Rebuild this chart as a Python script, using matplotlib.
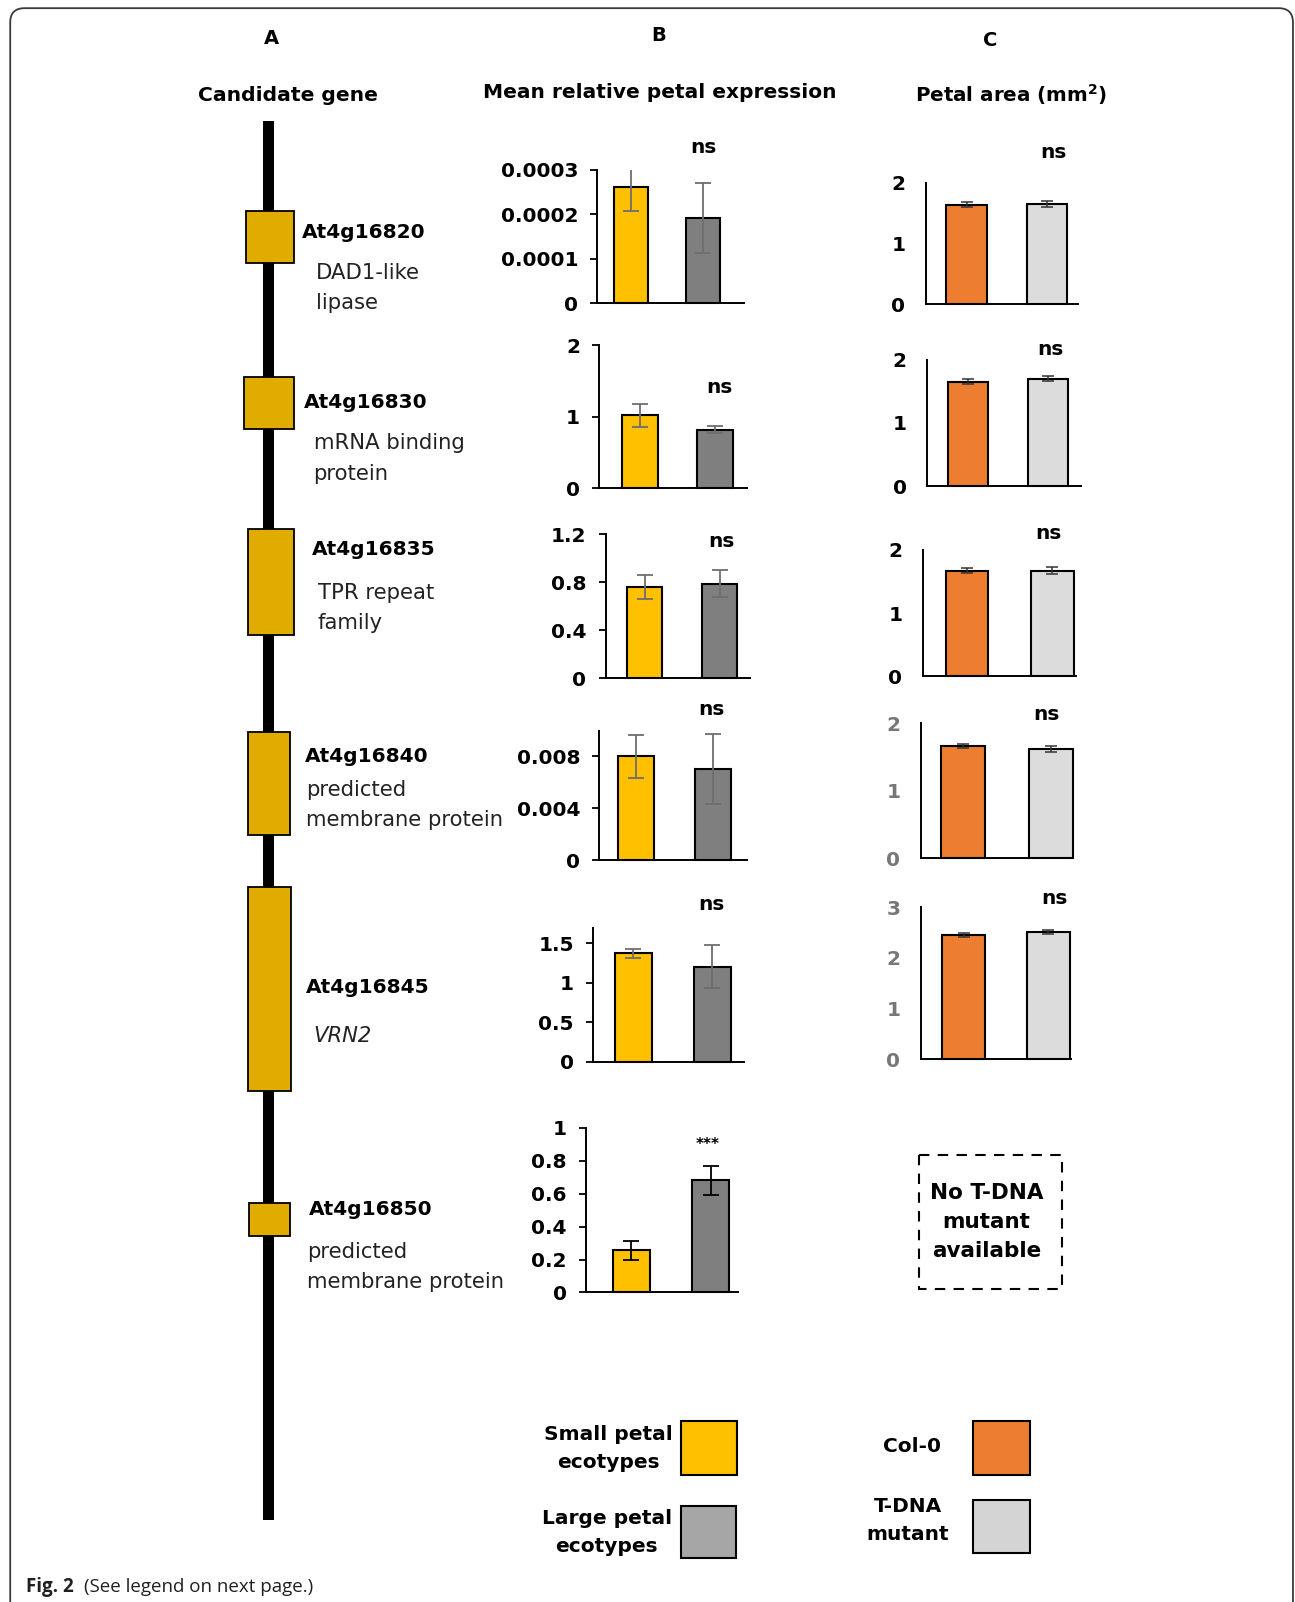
import matplotlib
matplotlib.use('Agg')

import matplotlib.pyplot as plt
from matplotlib.patches import Rectangle, FancyBboxPatch

# Datos
genes = ['At4g16820', 'At4g16830', 'At4g16835', 'At4g16840', 'At4g16845', 'At4g16850']
descripciones = [['DAD1-like', 'lipase'], ['mRNA binding', 'protein'], ['TPR repeat', 'family'],
                 ['predicted', 'membrane protein'], ['VRN2'], ['predicted', 'membrane protein']]

expr_small = [0.000262, 1.02, 0.762, 0.0080, 1.374, 0.256]
expr_small_err = [0.000055, 0.16, 0.10, 0.00166, 0.06, 0.057]
expr_large = [0.000192, 0.823, 0.79, 0.0070, 1.204, 0.681]
expr_large_err = [0.000079, 0.05, 0.11, 0.0027, 0.27, 0.09]
expr_sig = ['ns', 'ns', 'ns', 'ns', 'ns', '***']
expr_ymax = [0.0003, 2, 1.2, 0.01, 1.7, 1]
expr_ticks = [[0, 0.0001, 0.0002, 0.0003], [0, 1, 2], [0, 0.4, 0.8, 1.2],
              [0, 0.004, 0.008], [0, 0.5, 1, 1.5], [0, 0.2, 0.4, 0.6, 0.8, 1]]
expr_ticklabels = [['0', '0.0001', '0.0002', '0.0003'], ['0', '1', '2'], ['0', '0.4', '0.8', '1.2'],
                   ['0', '0.004', '0.008'], ['0', '0.5', '1', '1.5'], ['0', '0.2', '0.4', '0.6', '0.8', '1']]

area_col = [1.64, 1.65, 1.67, 1.667, 2.46]
area_col_err = [0.04, 0.04, 0.04, 0.03, 0.04]
area_tdna = [1.655, 1.70, 1.67, 1.62, 2.52]
area_tdna_err = [0.05, 0.04, 0.05, 0.05, 0.04]
area_sig = ['ns', 'ns', 'ns', 'ns', 'ns']
area_ymax = [2, 2, 2, 2, 3]
area_ticks = [[0, 1, 2], [0, 1, 2], [0, 1, 2], [0, 1, 2], [0, 1, 2, 3]]

# Colores
YELLOW = '#FFC000'
DARKGRAY = '#7F7F7F'
ORANGE = '#ED7D31'
LIGHTGRAY = '#DCDCDC'
GENE_GOLD = '#E0AC00'
LEG_GRAY = '#A6A6A6'

# Layout (coordenadas en pixeles de la figura reducida 1268x1568)
W, H = 1268, 1568
# left, right, bottom, top, xlo, xhi
pos_b = [(585, 728, 297, 166, -0.47, 1.56),
         (587, 731, 478, 338, -0.54, 1.42),
         (593, 734, 664, 523, -0.52, 1.40),
         (587, 731, 842, 715, -0.48, 1.44),
         (581, 728, 1039, 908, -0.51, 1.40),
         (574, 723, 1265, 1104, -0.57, 1.35)]
pos_c = [(907, 1056, 298, 179, -0.50, 1.39),
         (908, 1058, 476, 352, -0.51, 1.41),
         (904, 1054, 662, 538, -0.51, 1.28),
         (902, 1050, 840, 708, -0.48, 1.24),
         (902, 1049, 1037, 888, -0.50, 1.27)]
sig_b_xy = [(689, 144), (704, 379), (706, 530), (697, 694), (697, 885), (693, 1120)]
sig_c_xy = [(1031, 149), (1029, 342), (1027, 522), (1025, 699), (1032, 879)]
# cajas de genes: x0, x1, y0, y1 ; etiqueta: x, y
gene_boxes = [(241, 288, 207, 257), (239, 288, 369, 420), (243, 288, 518, 622),
              (243, 284, 716, 817), (243, 285, 868, 1068), (244, 284, 1177, 1210)]
gene_label_xy = [(296, 228), (298, 394), (305, 538), (299, 740), (300, 967), (302, 1184)]
desc_xy = [(309, 267), (307, 434), (311, 580), (300, 773), (307, 1014), (301, 1225)]

plt.rcParams['font.family'] = 'DejaVu Sans'

fig = plt.figure(figsize=(12.95, 16.02), dpi=100)

bg = fig.add_axes([0, 0, 1, 1])
bg.set_xlim(0, W)
bg.set_ylim(H, 0)
bg.axis('off')


def rect(l, r, b, t):
    return [l / W, 1 - b / H, (r - l) / W, (b - t) / H]


def style_axes(ax, ymax, xlo, xhi):
    ax.set_xlim(xlo, xhi)
    ax.set_ylim(0, ymax)
    ax.patch.set_alpha(0)
    for s in ['top', 'right']:
        ax.spines[s].set_visible(False)
    for s in ['left', 'bottom']:
        ax.spines[s].set_linewidth(1.4)
    ax.set_xticks([])


# Panel B: expresion relativa
for i in range(6):
    l, r, b, t, xlo, xhi = pos_b[i]
    ax = fig.add_axes(rect(l, r, b, t))
    ecol = 'black' if i == 5 else '#6E6E6E'
    ax.bar([0, 1], [expr_small[i], expr_large[i]], width=0.47,
           color=[YELLOW, DARKGRAY], edgecolor='black', linewidth=1.5, clip_on=False,
           yerr=[expr_small_err[i], expr_large_err[i]],
           error_kw=dict(ecolor=ecol, elinewidth=1.3, capsize=6, capthick=1.3))
    style_axes(ax, expr_ymax[i], xlo, xhi)
    ax.set_yticks(expr_ticks[i], expr_ticklabels[i], fontsize=14.5, fontweight='bold')
    ax.tick_params(axis='y', direction='out', length=5, width=1.3, pad=9)
    sx, sy = sig_b_xy[i]
    bg.text(sx, sy, expr_sig[i], ha='center', va='center', fontweight='bold',
            fontsize=11 if expr_sig[i] == '***' else 14.5)

# Panel C: area del petalo
for i in range(5):
    l, r, b, t, xlo, xhi = pos_c[i]
    ax = fig.add_axes(rect(l, r, b, t))
    ax.bar([0, 1], [area_col[i], area_tdna[i]], width=0.5,
           color=[ORANGE, LIGHTGRAY], edgecolor='black', linewidth=1.5, clip_on=False,
           yerr=[area_col_err[i], area_tdna_err[i]],
           error_kw=dict(ecolor='#333333', elinewidth=1.1, capsize=4, capthick=1.1))
    style_axes(ax, area_ymax[i], xlo, xhi)
    lblcol = '#777777' if i >= 3 else 'black'
    ax.set_yticks(area_ticks[i], [str(v) for v in area_ticks[i]], fontsize=14.5,
                  fontweight='bold', color=lblcol)
    ax.tick_params(axis='y', length=0, pad=15)
    sx, sy = sig_c_xy[i]
    bg.text(sx, sy, area_sig[i], ha='center', va='center', fontweight='bold', fontsize=14.5)

# No T-DNA
bg.add_patch(Rectangle((900, 1130), 140, 132, fill=False, edgecolor='black',
                       linewidth=1.5, linestyle=(0, (5, 4))))
bg.text(966, 1196, 'No T-DNA\nmutant\navailable', ha='center', va='center',
        fontweight='bold', fontsize=15.5, linespacing=1.55)

# Panel A: cromosoma y genes
bg.add_patch(Rectangle((258, 118), 10, 1370, facecolor='black', edgecolor='none'))
for i in range(6):
    x0, x1, y0, y1 = gene_boxes[i]
    bg.add_patch(Rectangle((x0, y0), x1 - x0, y1 - y0, facecolor=GENE_GOLD,
                           edgecolor='black', linewidth=1.3, zorder=3))
    gx, gy = gene_label_xy[i]
    bg.text(gx, gy, genes[i], ha='left', va='center', fontweight='bold', fontsize=14.5)
    dx, dy = desc_xy[i]
    for j, linea in enumerate(descripciones[i]):
        bg.text(dx, dy + 30 * j, linea, ha='left', va='center', fontsize=15.2,
                style='italic' if linea == 'VRN2' else 'normal', color='#222222')

# Titulos
for letra, x, y in [('A', 266, 38), ('B', 645, 35), ('C', 970, 40)]:
    bg.text(x, y, letra, ha='center', va='center', fontweight='bold', fontsize=14)
bg.text(282, 93, 'Candidate gene', ha='center', va='center', fontweight='bold', fontsize=14.6)
bg.text(646, 91, 'Mean relative petal expression', ha='center', va='center',
        fontweight='bold', fontsize=14.5)
bg.text(990, 93, 'Petal area (mm$^{\\mathbf{2}}$)', ha='center', va='center',
        fontweight='bold', fontsize=14.3)

# Leyenda
bg.add_patch(Rectangle((667, 1391), 55, 53, facecolor=YELLOW, edgecolor='black', linewidth=1.5))
bg.add_patch(Rectangle((667, 1474), 54, 51, facecolor=LEG_GRAY, edgecolor='black', linewidth=1.5))
bg.add_patch(Rectangle((953, 1391), 56, 53, facecolor=ORANGE, edgecolor='black', linewidth=1.5))
bg.add_patch(Rectangle((953, 1468), 56, 52, facecolor='#D4D4D4', edgecolor='black', linewidth=1.5))
bg.text(596, 1418, 'Small petal\necotypes', ha='center', va='center', fontweight='bold',
        fontsize=14.5, linespacing=1.6)
bg.text(594, 1500, 'Large petal\necotypes', ha='center', va='center', fontweight='bold',
        fontsize=14.5, linespacing=1.6)
bg.text(893, 1416, 'Col-0', ha='center', va='center', fontweight='bold', fontsize=14.5)
bg.text(889, 1488, 'T-DNA\nmutant', ha='center', va='center', fontweight='bold',
        fontsize=14.5, linespacing=1.6)

# Marco de pagina
bg.add_patch(FancyBboxPatch((10, 8), 1256, 1600, boxstyle='round,pad=0,rounding_size=14',
                            fill=False, edgecolor='#3a3a3a', linewidth=1.3))
bg.text(25, 1553, 'Fig. 2', ha='left', va='center', fontweight='bold', fontsize=13.5,
        family='Open Sans', color='#231f20')
bg.text(82, 1553, '(See legend on next page.)', ha='left', va='center', fontsize=13.5,
        family='Open Sans', color='#231f20')

fig.savefig('out.png', dpi=100)
